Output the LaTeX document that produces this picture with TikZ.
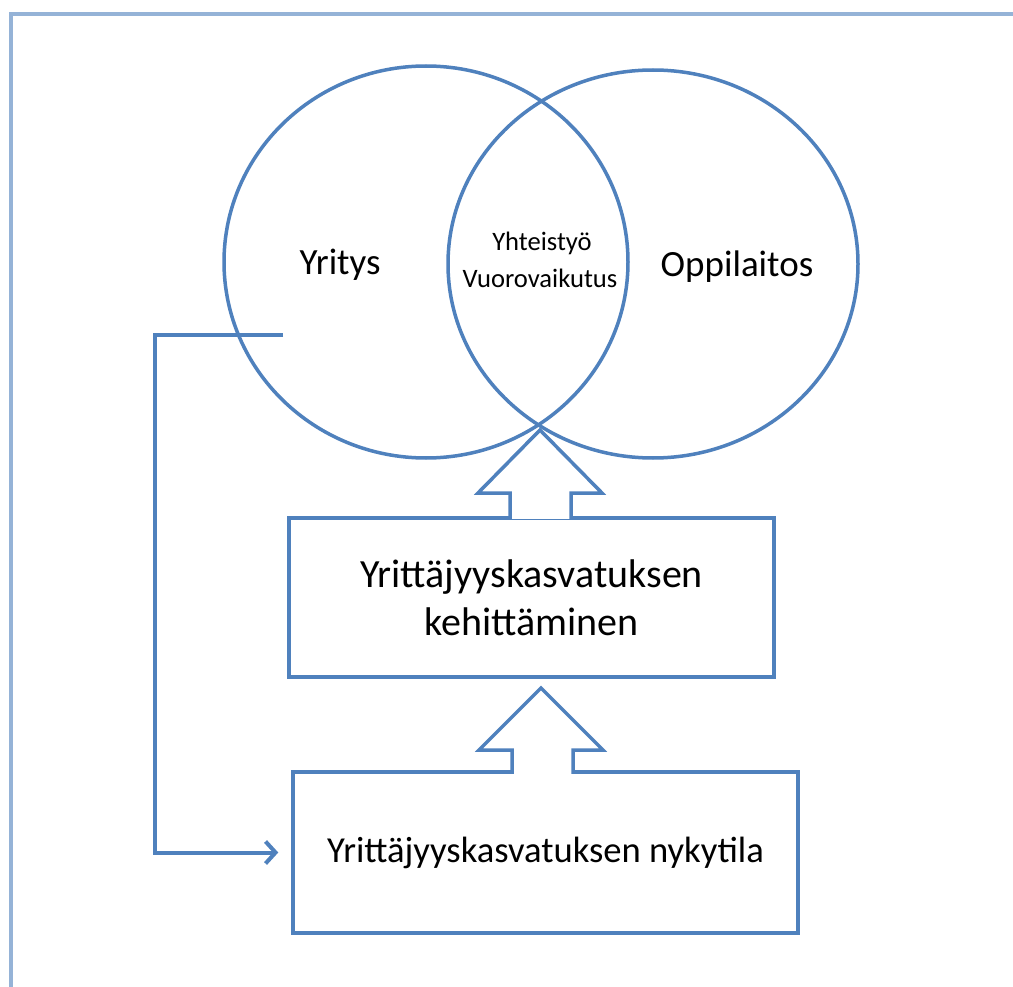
\documentclass[tikz,border=0pt]{standalone}
\usepackage{fontspec}
\setmainfont{Carlito}
\usetikzlibrary{shapes.geometric,arrows.meta}
\definecolor{lineblue}{HTML}{4F81BD}
\definecolor{frameblue}{HTML}{95B3D7}
\tikzset{
  shapeline/.style={draw=lineblue, line width=3.5pt},
  vennring/.style={shapeline, ellipse, inner sep=0pt},
  stepbox/.style={shapeline, rectangle, inner sep=0pt, align=center},
  blockarrow/.style={shapeline, line join=miter, fill=white},
  connector/.style={draw=lineblue, line width=4pt, line join=miter, -{Straight Barb[length=10pt,width=22pt,line width=4pt]}},
  lbl/.style={text=black, inner sep=0pt}
}
\begin{document}
\begin{tikzpicture}[x=1pt,y=-1pt]
\useasboundingbox (0,0) rectangle (1013,987);
\fill[white] (0,0) rectangle (1013,987);
% frame
\coordinate (fbl) at (11,1000);
\coordinate (ftl) at (11,14);
\coordinate (ftr) at (1030,14);
\draw[frameblue, line width=4.5pt] (fbl) -- (ftl) -- (ftr);
% Venn circles
\node[vennring, minimum width=404pt, minimum height=392pt] (yritys) at (426,262) {};
\node[vennring, minimum width=410pt, minimum height=388pt] (oppi) at (653,264) {};
\node[lbl, font=\fontsize{37}{44}\selectfont] (tyritys) at (340,265) {Yritys};
\node[lbl, font=\fontsize{37}{44}\selectfont] (toppi) at (737,267) {Oppilaitos};
\node[lbl, font=\fontsize{26.6}{35}\selectfont] (tyht) at (542,243) {Yhteistyö};
\node[lbl, font=\fontsize{26.6}{35}\selectfont] (tvuo) at (540,278) {Vuorovaikutus};
% boxes
\node[stepbox, minimum width=485pt, minimum height=159pt, font=\fontsize{40}{48}\selectfont] (kehit) at (531.5,597.5) {Yrittäjyyskasvatuksen\\kehittäminen};
\node[stepbox, minimum width=505pt, minimum height=161pt, font=\fontsize{36.6}{44}\selectfont] (nyky) at (545.5,852.5) {Yrittäjyyskasvatuksen nykytila};
% block arrows
\draw[blockarrow] (510,518.8) -- (510,493) -- (478,493) -- (540,430) -- (602,493) -- (571,493) -- (571,518.8);
\draw[blockarrow] (512,773.8) -- (512,750) -- (479,750) -- (541,688) -- (603,750) -- (573,750) -- (573,773.8);
% feedback connector
\coordinate (fbstart) at (283,335);
\coordinate (fbcorner) at (155,335);
\draw[connector, shorten >=13pt] (fbstart) -- (fbcorner) |- (nyky.west);
\end{tikzpicture}
\end{document}
